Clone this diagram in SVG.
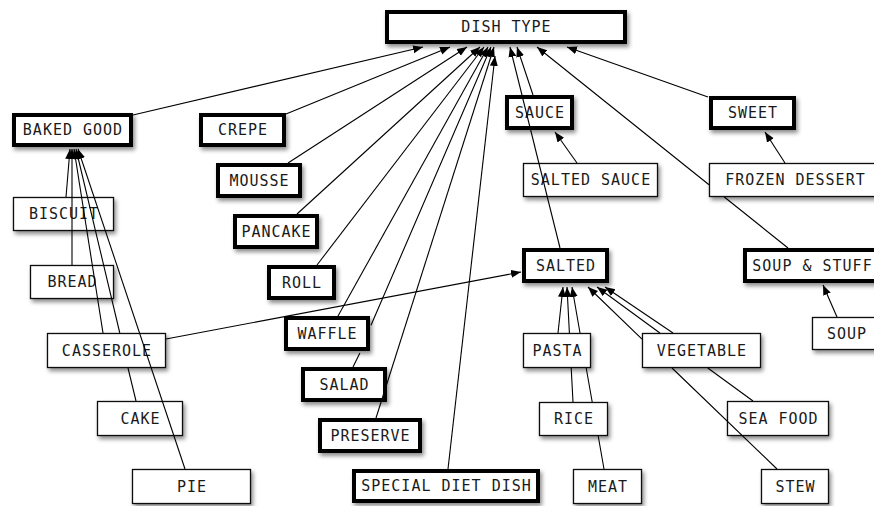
<svg xmlns="http://www.w3.org/2000/svg" width="874" height="506" viewBox="0 0 874 506">
<defs>
<filter id="sh" x="-20%" y="-30%" width="140%" height="170%">
<feDropShadow dx="2" dy="3" stdDeviation="2" flood-color="#000" flood-opacity="0.45"/>
</filter>
<marker id="ah" markerUnits="userSpaceOnUse" markerWidth="11" markerHeight="9" refX="10" refY="4" orient="auto">
<path d="M0,0 L10,4 L0,8 z" fill="#000"/>
</marker>
<style>
.thick{fill:#fff;stroke:#000;stroke-width:4;filter:url(#sh)}
.thin{fill:#fff;stroke:#111;stroke-width:1.3;filter:url(#sh)}
text{font-family:"DejaVu Sans Mono","Liberation Mono",monospace;font-size:15px;letter-spacing:1px;fill:#1a1a1a;text-anchor:middle}
.e{fill:none;stroke:#000;stroke-width:1.1;marker-end:url(#ah)}
</style>
</defs>
<rect width="874" height="506" fill="#fff"/>
<g id="nodes">
<g id="dish-type"><rect class="thick" x="387" y="12" width="238" height="30"/><text x="506.5" y="32">DISH TYPE</text></g>
<g id="baked-good"><rect class="thick" x="14" y="115" width="117" height="30"/><text x="73" y="135">BAKED GOOD</text></g>
<g id="crepe"><rect class="thick" x="201" y="115" width="83" height="30"/><text x="243" y="135">CREPE</text></g>
<g id="mousse"><rect class="thick" x="218" y="165" width="82" height="31"/><text x="259.5" y="185.5">MOUSSE</text></g>
<g id="pancake"><rect class="thick" x="235" y="216" width="82" height="31"/><text x="276.5" y="236.5">PANCAKE</text></g>
<g id="roll"><rect class="thick" x="269" y="267" width="65" height="31"/><text x="302" y="287.5">ROLL</text></g>
<g id="waffle"><rect class="thick" x="286" y="318" width="82" height="31"/><text x="327.5" y="338.5">WAFFLE</text></g>
<g id="salad"><rect class="thick" x="303" y="369" width="82" height="31"/><text x="344.5" y="389.5">SALAD</text></g>
<g id="preserve"><rect class="thick" x="320" y="420" width="100" height="31"/><text x="370.5" y="440.5">PRESERVE</text></g>
<g id="special-diet-dish"><rect class="thick" x="354" y="471" width="184" height="30"/><text x="446.5" y="491">SPECIAL DIET DISH</text></g>
<g id="sauce"><rect class="thick" x="507" y="97" width="65" height="31"/><text x="540" y="117.5">SAUCE</text></g>
<g id="sweet"><rect class="thick" x="711" y="98" width="83" height="30"/><text x="753" y="118">SWEET</text></g>
<g id="salted"><rect class="thick" x="524" y="250" width="83" height="31"/><text x="566" y="270.5">SALTED</text></g>
<g id="soup-stuff"><rect class="thick" x="745" y="250" width="134" height="31"/><text x="812.5" y="270.5">SOUP &amp; STUFF</text></g>
<g id="biscuit"><rect class="thin" x="13.5" y="197.5" width="100" height="33"/><text x="64" y="219">BISCUIT</text></g>
<g id="bread"><rect class="thin" x="30.5" y="265.5" width="83" height="33"/><text x="72.5" y="287">BREAD</text></g>
<g id="casserole"><rect class="thin" x="47.5" y="333.5" width="118" height="34"/><text x="107" y="355.5">CASSEROLE</text></g>
<g id="cake"><rect class="thin" x="97.5" y="401.5" width="85" height="34"/><text x="140.5" y="423.5">CAKE</text></g>
<g id="pie"><rect class="thin" x="132.5" y="469.5" width="118" height="34"/><text x="192" y="491.5">PIE</text></g>
<g id="salted-sauce"><rect class="thin" x="523.5" y="163.5" width="134" height="33"/><text x="591" y="185">SALTED SAUCE</text></g>
<g id="frozen-dessert"><rect class="thin" x="709.5" y="163.5" width="171" height="33"/><text x="795.5" y="185">FROZEN DESSERT</text></g>
<g id="soup"><rect class="thin" x="812.5" y="317.5" width="68" height="32"/><text x="847" y="338.5">SOUP</text></g>
<g id="pasta"><rect class="thin" x="523.5" y="333.5" width="67" height="34"/><text x="557.5" y="355.5">PASTA</text></g>
<g id="vegetable"><rect class="thin" x="642.5" y="333.5" width="118" height="34"/><text x="702" y="355.5">VEGETABLE</text></g>
<g id="rice"><rect class="thin" x="539.5" y="402.5" width="68" height="33"/><text x="574" y="424">RICE</text></g>
<g id="sea-food"><rect class="thin" x="727.5" y="401.5" width="101" height="34"/><text x="778.5" y="423.5">SEA FOOD</text></g>
<g id="meat"><rect class="thin" x="573.5" y="469.5" width="68" height="34"/><text x="608" y="491.5">MEAT</text></g>
<g id="stew"><rect class="thin" x="761.5" y="469.5" width="67" height="34"/><text x="795.5" y="491.5">STEW</text></g>
</g>
<g id="connectors">
<path class="e" d="M133,115 L423,47"/>
<path class="e" d="M286,114 L450,47"/>
<path class="e" d="M288,163 L467,47"/>
<path class="e" d="M297,214 L480,47"/>
<path class="e" d="M317,265 L484,47"/>
<path class="e" d="M338,316 L488,47"/>
<path class="e" d="M353,367 L359.9,353 M371,325.3 L491,47"/>
<path class="e" d="M376,418 L494,47"/>
<path class="e" d="M448,469 L495,56"/>
<path class="e" d="M560,248 L510,47"/>
<path class="e" d="M533,95 L517,47"/>
<path class="e" d="M788,248 L724.3,197 M709,184.7 L537,47"/>
<path class="e" d="M708,97 L567,47"/>
<path class="e" d="M577,163 L555,132"/>
<path class="e" d="M785,163 L765,132"/>
<path class="e" d="M837,317 L823,285"/>
<path class="e" d="M166,339 L521,272"/>
<path class="e" d="M66,197 L70,149"/>
<path class="e" d="M72,265 L72,149"/>
<path class="e" d="M103,333 L74,149"/>
<path class="e" d="M136,401 L128,368 M119.8,333 L76,149"/>
<path class="e" d="M185,469 L78,149"/>
<path class="e" d="M558,333 L563,287"/>
<path class="e" d="M573,402 L571.2,368 M569.4,333 L567,287"/>
<path class="e" d="M604,469 L598.2,436 M592.2,402 L586.2,368 M580,333 L572,287"/>
<path class="e" d="M673,333 L605,287"/>
<path class="e" d="M753,401 L707.8,368 M659.9,333 L597,287"/>
<path class="e" d="M777,469 L672,368 M642,339.2 L588,287"/>
</g>
</svg>
